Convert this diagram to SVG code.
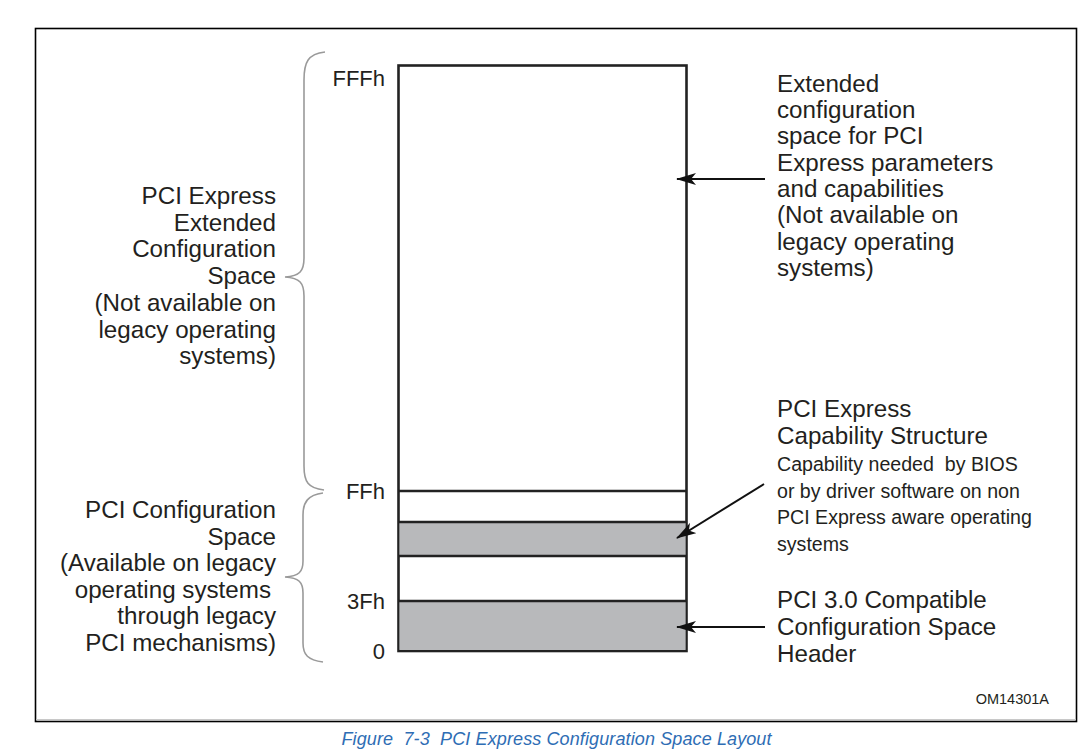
<svg xmlns="http://www.w3.org/2000/svg" width="1078" height="753" viewBox="0 0 1078 753">
<defs>
<style>
.t{font-family:"Liberation Sans",Arial,sans-serif;fill:#231f20}
.lg{font-size:24.2px}
.sm{font-size:19.6px}
.ad{font-size:22px}
.r{text-anchor:end}
.cap{font-family:"Liberation Sans",Arial,sans-serif;font-style:italic;font-size:18px;fill:#2e6db4;white-space:pre}
.brace{fill:none;stroke:#9a9a9a;stroke-width:1.6}
.conn{fill:none;stroke:#111;stroke-width:2}
.band{fill:#b8b9bb}
</style>
<marker id="ah" viewBox="0 0 20 12" refX="19" refY="6" markerWidth="20" markerHeight="12" markerUnits="userSpaceOnUse" orient="auto">
<path d="M20,6 L0,0 L5,6 L0,12 Z" fill="#111"/>
</marker>
</defs>
<rect x="0" y="0" width="1078" height="753" fill="#fff"/>
<g id="frame">
<rect x="35.5" y="28.5" width="1041" height="693" fill="none" stroke="#000" stroke-width="1.6"/>
<line x1="36" y1="719.5" x2="1076" y2="719.5" stroke="#c8c8c8" stroke-width="1"/>
</g>
<g id="memory-map">
<rect x="398.5" y="65.5" width="288" height="585.5" fill="#fff" stroke="#222" stroke-width="2.6"/>
<rect class="band" x="399.5" y="522" width="286" height="34"/>
<rect class="band" x="399.5" y="601" width="286" height="49"/>
<g stroke="#222" stroke-width="2.5">
<line x1="398.5" y1="491" x2="686.5" y2="491"/>
<line x1="398.5" y1="522" x2="686.5" y2="522"/>
<line x1="398.5" y1="556" x2="686.5" y2="556"/>
<line x1="398.5" y1="601" x2="686.5" y2="601"/>
</g>
</g>
<g id="addresses">
<text class="t ad r" x="385" y="85.5">FFFh</text>
<text class="t ad r" x="385" y="499">FFh</text>
<text class="t ad r" x="385" y="609">3Fh</text>
<text class="t ad r" x="385" y="659">0</text>
</g>
<g id="brace-extended">
<path class="brace" d="M325,52 C308,54 304,62 304,80 L304,258 C304,271 300,276 285,277 C300,278 304,283 304,296 L304,466 C304,482 308,488 324,490"/>
<text class="t lg r" x="276" y="204">PCI Express</text>
<text class="t lg r" x="276" y="230.7">Extended</text>
<text class="t lg r" x="276" y="257.4">Configuration</text>
<text class="t lg r" x="276" y="284.1">Space</text>
<text class="t lg r" x="276" y="310.8">(Not available on</text>
<text class="t lg r" x="276" y="337.5">legacy operating</text>
<text class="t lg r" x="276" y="364.2">systems)</text>
</g>
<g id="brace-pci">
<path class="brace" d="M323,493 C308,495 303,502 303,515 L303,561 C303,572 299,576 285,577 C299,578 303,582 303,593 L303,643 C303,655 308,660 323,662"/>
<text class="t lg r" x="276" y="518">PCI Configuration</text>
<text class="t lg r" x="276" y="544.6">Space</text>
<text class="t lg r" x="276" y="571.2">(Available on legacy</text>
<text class="t lg r" x="271" y="597.8">operating systems</text>
<text class="t lg r" x="276" y="624.4">through legacy</text>
<text class="t lg r" x="276" y="651">PCI mechanisms)</text>
</g>
<g id="label-extended">
<text class="t lg" x="777" y="91.7">Extended</text>
<text class="t lg" x="777" y="118">configuration</text>
<text class="t lg" x="777" y="144.3">space for PCI</text>
<text class="t lg" x="777" y="170.6">Express parameters</text>
<text class="t lg" x="777" y="196.9">and capabilities</text>
<text class="t lg" x="777" y="223.2">(Not available on</text>
<text class="t lg" x="777" y="249.5">legacy operating</text>
<text class="t lg" x="777" y="275.8">systems)</text>
</g>
<g id="label-capability">
<text class="t lg" x="777" y="417.3">PCI Express</text>
<text class="t lg" x="777" y="444">Capability Structure</text>
<text class="t sm" x="777" y="471" style="white-space:pre">Capability needed  by BIOS</text>
<text class="t sm" x="777" y="497.5">or by driver software on non</text>
<text class="t sm" x="777" y="524.3">PCI Express aware operating</text>
<text class="t sm" x="777" y="551">systems</text>
</g>
<g id="label-header">
<text class="t lg" x="777" y="608">PCI 3.0 Compatible</text>
<text class="t lg" x="777" y="635">Configuration Space</text>
<text class="t lg" x="777" y="661.7">Header</text>
</g>
<g id="connectors">
<line class="conn" x1="765" y1="179" x2="677" y2="179" marker-end="url(#ah)"/>
<line class="conn" x1="764" y1="484" x2="677" y2="538" marker-end="url(#ah)"/>
<line class="conn" x1="765" y1="627" x2="677" y2="627" marker-end="url(#ah)"/>
</g>
<text class="t" x="1049" y="704" text-anchor="end" style="font-size:14.5px">OM14301A</text>
<text class="cap" x="341.5" y="745" textLength="430" lengthAdjust="spacing">Figure  7-3  PCI Express Configuration Space Layout</text>
</svg>
